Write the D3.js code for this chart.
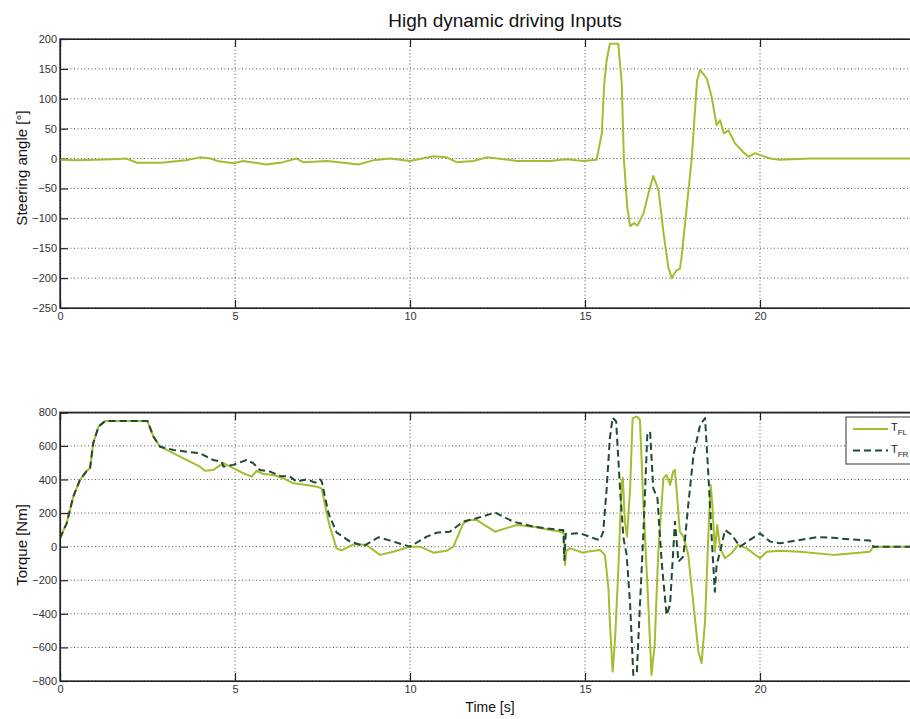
<!DOCTYPE html>
<html>
<head>
<meta charset="utf-8">
<script src="https://cdn.jsdelivr.net/npm/d3@7"></script>
<style>
  html, body { margin: 0; padding: 0; background: #fff; }
  svg { display: block; font-family: Arial, "Liberation Sans", sans-serif; }
</style>
</head>
<body>
<svg id="chart" width="910" height="719"></svg>
<script>
// ---------------- DATA ----------------
const titleText = "High dynamic driving Inputs";
const xTicks = [0, 5, 10, 15, 20];
const steerTicks = [200, 150, 100, 50, 0, -50, -100, -150, -200, -250];
const torqueTicks = [800, 600, 400, 200, 0, -200, -400, -600, -800];

const steerTime = [0, 0.5, 1.0, 1.5, 1.9, 2.2, 2.9, 3.6, 4.0, 4.3, 4.5, 4.95, 5.24, 5.9, 6.38, 6.76, 6.95, 7.62, 8.1, 8.52, 8.95, 9.43, 10.0, 10.67, 11.05, 11.33, 11.81, 12.19, 12.5, 13.05, 14.0, 14.48, 14.95, 15.33, 15.48, 15.55, 15.62, 15.71, 15.95, 16.05, 16.11, 16.21, 16.29, 16.4, 16.5, 16.67, 16.81, 16.95, 17.1, 17.24, 17.38, 17.48, 17.6, 17.71, 17.75, 18.05, 18.2, 18.29, 18.48, 18.62, 18.76, 18.86, 18.97, 19.1, 19.29, 19.52, 19.67, 19.86, 20.05, 20.29, 20.57, 21.43, 25];
const steerAngle = [-2, -3, -2, -1, 0, -7, -7, -3, 2, 0, -4, -8, -4, -10, -6, 0, -6, -4, -7, -10, -3, 0, -4, 4, 2, -6, -4, 2, 0, -4, -4, -1, -4, -2, 42, 126, 165, 192, 192, 126, 0, -83, -113, -108, -112, -92, -59, -29, -53, -123, -182, -200, -188, -184, -170, 0, 130, 148, 134, 103, 56, 64, 42, 47, 25, 11, 3, 9, 5, 0, -2, 0, 0];

const flTime = [0, 0.19, 0.38, 0.57, 0.76, 0.86, 0.95, 1.1, 1.29, 2.5, 2.67, 2.86, 3.43, 4.0, 4.14, 4.38, 4.67, 4.95, 5.24, 5.48, 5.62, 5.81, 6.1, 6.38, 6.67, 7.05, 7.38, 7.48, 7.62, 7.71, 7.9, 8.05, 8.29, 8.48, 8.76, 9.14, 9.52, 10.0, 10.29, 10.67, 11.05, 11.24, 11.52, 11.71, 11.9, 12.43, 13.05, 13.52, 14.29, 14.4, 14.43, 14.47, 14.57, 14.95, 15.05, 15.43, 15.57, 15.67, 15.71, 15.79, 15.86, 15.95, 16.05, 16.08, 16.14, 16.2, 16.29, 16.36, 16.48, 16.57, 16.67, 16.81, 16.9, 16.99, 17.09, 17.24, 17.33, 17.43, 17.52, 17.57, 17.62, 17.71, 17.81, 17.95, 18.1, 18.24, 18.33, 18.43, 18.52, 18.59, 18.64, 18.71, 18.78, 18.86, 19.0, 19.19, 19.38, 19.62, 20.0, 20.19, 20.57, 21.14, 22.1, 23.14, 23.24, 25];
const torqueFL = [50, 139, 298, 397, 450, 470, 616, 715, 748, 748, 655, 595, 536, 476, 452, 457, 497, 467, 437, 417, 452, 432, 427, 407, 377, 367, 355, 345, 199, 119, -10, -22, 5, 16, 10, -49, -30, 0, 0, -36, -24, 0, 139, 159, 159, 89, 129, 119, 89, 80, -109, -24, -10, -36, -30, -20, -50, -248, -447, -744, -546, -149, 387, 411, 149, 60, 348, 765, 775, 755, 248, -347, -764, -585, -49, 407, 427, 367, 447, 457, 328, 89, 60, -49, -347, -625, -694, -447, 50, 367, 248, -30, 129, -10, -69, -39, 10, -10, -69, -30, -25, -30, -49, -30, 0, 0];

const frTime = [0, 0.19, 0.38, 0.57, 0.76, 0.86, 0.95, 1.1, 1.29, 2.5, 2.67, 2.86, 3.24, 3.62, 4.0, 4.38, 4.62, 4.67, 4.95, 5.33, 5.52, 5.71, 6.0, 6.29, 6.57, 6.76, 7.05, 7.29, 7.43, 7.48, 7.67, 7.9, 8.29, 8.67, 9.1, 9.43, 10.0, 10.48, 10.76, 11.14, 11.52, 11.9, 12.43, 12.95, 13.52, 14.29, 14.38, 14.41, 14.45, 14.86, 15.33, 15.43, 15.52, 15.62, 15.71, 15.79, 15.89, 16.0, 16.1, 16.19, 16.29, 16.38, 16.48, 16.57, 16.67, 16.78, 16.86, 16.95, 17.07, 17.19, 17.33, 17.43, 17.57, 17.67, 17.81, 17.95, 18.1, 18.29, 18.43, 18.52, 18.62, 18.71, 18.76, 18.86, 19.0, 19.19, 19.43, 19.71, 20.0, 20.29, 20.57, 21.14, 21.62, 22.1, 22.57, 23.14, 23.24, 25];
const torqueFR = [50, 139, 298, 397, 450, 470, 616, 715, 748, 748, 655, 595, 576, 565, 556, 516, 506, 477, 487, 516, 497, 457, 447, 421, 417, 387, 401, 381, 401, 387, 199, 85, 30, 4, 56, 36, 0, 60, 83, 89, 149, 169, 203, 149, 119, 99, 99, -79, 76, 80, 44, 40, 89, 348, 646, 768, 745, 348, 50, -49, -347, -764, -754, -347, 89, 665, 685, 348, 288, -89, -407, -347, 149, -89, -59, 248, 546, 725, 765, 447, 50, -268, -109, -30, 99, 70, 0, 40, 80, 30, 20, 40, 56, 53, 43, 36, 0, 0];

const legendLabels = [["T", "FL"], ["T", "FR"]];

// ---------------- LAYOUT ----------------
const svg = d3.select("#chart");
const left = 60, right = 935;
const colFL = "#a4bd30";
const colFR = "#1f4b30";

const x = d3.scaleLinear().domain([0, 25]).range([left, right]);
const ySteer = d3.scaleLinear().domain([-250, 200]).range([308, 39]);
const yTorque = d3.scaleLinear().domain([-800, 800]).range([681, 412.3]);

function drawPanel(y, yTicks, id) {
  const g = svg.append("g");
  const [y0, y1] = y.range();
  svg.append("clipPath").attr("id", id)
    .append("rect").attr("x", left).attr("y", y1).attr("width", right - left).attr("height", y0 - y1);
  g.selectAll(".hg").data(yTicks).enter().append("line")
    .attr("x1", left).attr("x2", right)
    .attr("y1", d => y(d)).attr("y2", d => y(d))
    .attr("stroke", "#555").attr("stroke-width", 1).attr("stroke-dasharray", "1,2.5");
  g.selectAll(".vg").data(xTicks).enter().append("line")
    .attr("x1", d => x(d)).attr("x2", d => x(d))
    .attr("y1", y1).attr("y2", y0)
    .attr("stroke", "#555").attr("stroke-width", 1).attr("stroke-dasharray", "1,2.5");
  const axB = d3.axisBottom(x).tickValues(xTicks).tickSize(-8).tickPadding(4).tickFormat(d3.format("d"));
  const axT = d3.axisTop(x).tickValues(xTicks).tickSize(-8).tickFormat("");
  const axL = d3.axisLeft(y).tickValues(yTicks).tickSize(-8).tickPadding(3).tickFormat(d3.format("d"));
  const gb = svg.append("g").attr("transform", `translate(0,${y0})`).call(axB);
  const gt = svg.append("g").attr("transform", `translate(0,${y1})`).call(axT);
  const gl = svg.append("g").attr("transform", `translate(${left},0)`).call(axL);
  [gb, gt, gl].forEach(a => {
    a.select(".domain").attr("stroke", "#222").attr("stroke-width", 1.2);
    a.selectAll(".tick line").attr("stroke", "#222").attr("stroke-width", 1.2);
    a.selectAll(".tick text").attr("fill", "#333").attr("font-size", 11).attr("font-family", "Arial, 'Liberation Sans', sans-serif");
  });
  return `url(#${id})`;
}

const clipTop = drawPanel(ySteer, steerTicks, "clipTop");
const clipBot = drawPanel(yTorque, torqueTicks, "clipBot");

const steerLine = d3.line().x((d, i) => x(steerTime[i])).y(d => ySteer(d));
svg.append("path").attr("d", steerLine(steerAngle))
  .attr("fill", "none").attr("stroke", colFL).attr("stroke-width", 2).attr("stroke-linejoin", "round")
  .attr("clip-path", clipTop);

const flLine = d3.line().x((d, i) => x(flTime[i])).y(d => yTorque(d));
const frLine = d3.line().x((d, i) => x(frTime[i])).y(d => yTorque(d));
svg.append("path").attr("d", flLine(torqueFL))
  .attr("fill", "none").attr("stroke", colFL).attr("stroke-width", 2).attr("stroke-linejoin", "round")
  .attr("clip-path", clipBot);
svg.append("path").attr("d", frLine(torqueFR))
  .attr("fill", "none").attr("stroke", colFR).attr("stroke-width", 2).attr("stroke-dasharray", "7,4")
  .attr("stroke-linejoin", "round").attr("clip-path", clipBot);

[ySteer, yTorque].forEach(y => {
  const [y0, y1] = y.range();
  svg.append("rect").attr("x", left).attr("y", y1).attr("width", right - left).attr("height", y0 - y1)
    .attr("fill", "none").attr("stroke", "#222").attr("stroke-width", 1.2);
});

svg.append("text").attr("x", 505).attr("y", 27).attr("text-anchor", "middle")
  .attr("font-size", 19).attr("fill", "#111").text(titleText);
svg.append("text").attr("transform", "translate(27,168) rotate(-90)").attr("text-anchor", "middle")
  .attr("font-size", 15).attr("fill", "#111").text("Steering angle [°]");
svg.append("text").attr("transform", "translate(27,545) rotate(-90)").attr("text-anchor", "middle")
  .attr("font-size", 15).attr("fill", "#111").text("Torque [Nm]");
svg.append("text").attr("x", 490).attr("y", 712).attr("text-anchor", "middle")
  .attr("font-size", 14).attr("fill", "#111").text("Time [s]");

const lg = svg.append("g");
lg.append("rect").attr("x", 846).attr("y", 417).attr("width", 80).attr("height", 47)
  .attr("fill", "#fff").attr("stroke", "#333").attr("stroke-width", 1);
const legendStyles = [{ c: colFL, dash: null }, { c: colFR, dash: "7,4" }];
legendLabels.forEach((lab, i) => {
  const yy = 429 + i * 21.5;
  lg.append("line").attr("x1", 853).attr("x2", 888).attr("y1", yy).attr("y2", yy)
    .attr("stroke", legendStyles[i].c).attr("stroke-width", 2)
    .attr("stroke-dasharray", legendStyles[i].dash);
  const t = lg.append("text").attr("x", 891).attr("y", yy + 2).attr("font-size", 11).attr("fill", "#222");
  t.append("tspan").text(lab[0]);
  t.append("tspan").attr("dy", 4).attr("font-size", 8).text(lab[1]);
});
</script>
</body>
</html>
